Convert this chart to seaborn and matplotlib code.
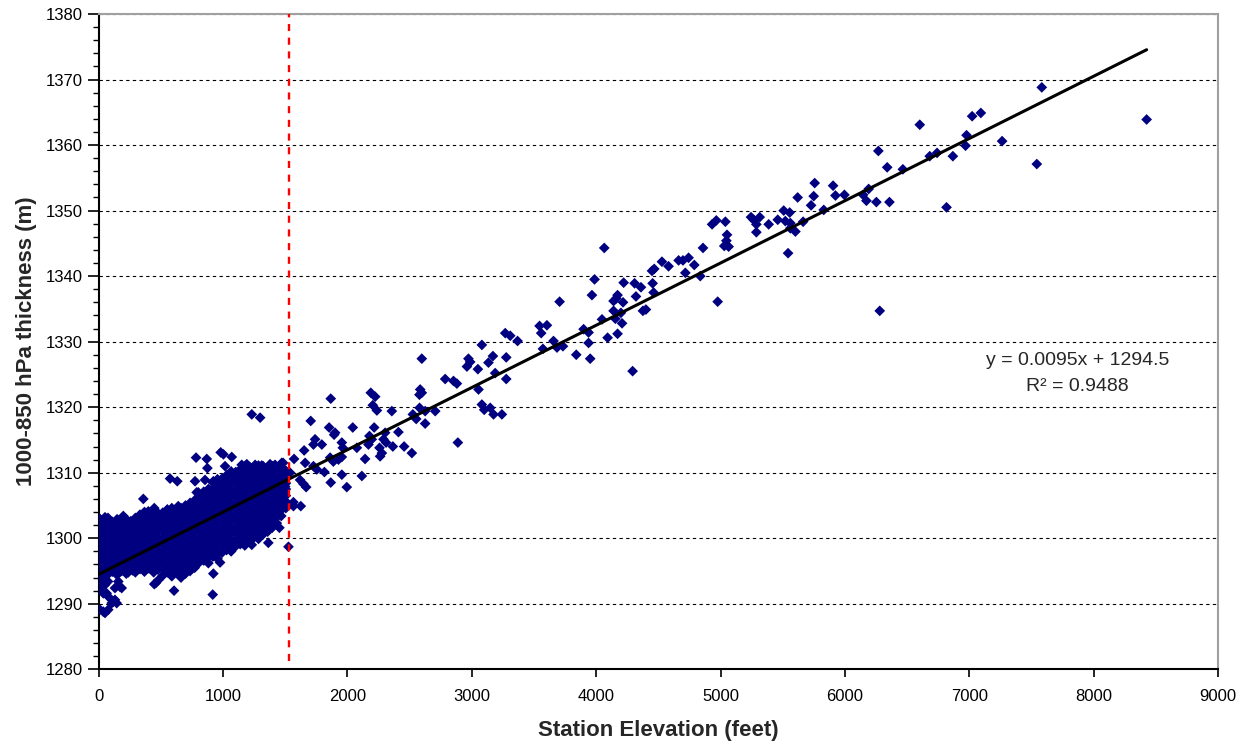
import seaborn as sns
import pandas as pd
import matplotlib.pyplot as plt
from matplotlib.ticker import MultipleLocator

# dense low-elevation cluster, read column by column off the blob (feet -> metres)
cluster_x = [8, 40, 75, 110, 148, 185, 222, 258, 295, 332, 368, 405, 442, 478,
             515, 552, 588, 625, 662, 698, 735, 772, 808, 845, 882, 918, 955, 992,
             1028, 1065, 1102, 1138, 1175, 1212, 1248, 1285, 1322, 1358, 1395,
             1432, 1468, 1505]
cluster_y = [
    [1293.6, 1294.6, 1295.7, 1296.5, 1297.6, 1298.4, 1299.5, 1300.3, 1301.3, 1302.2, 1303.0],
    [1294.1, 1295.1, 1296.0, 1297.1, 1297.9, 1298.9, 1299.9, 1300.8, 1301.8, 1302.6],
    [1293.4, 1294.5, 1295.5, 1296.6, 1297.4, 1298.5, 1299.3, 1300.4, 1301.2, 1302.1, 1303.1],
    [1294.9, 1295.9, 1296.9, 1297.9, 1298.8, 1299.8, 1300.7, 1301.6, 1302.5],
    [1294.4, 1295.3, 1296.3, 1297.2, 1298.3, 1299.1, 1300.2, 1301.0, 1302.0, 1302.9],
    [1295.0, 1295.8, 1296.8, 1297.7, 1298.7, 1299.6, 1300.6, 1301.4, 1302.4],
    [1294.6, 1295.5, 1296.4, 1297.4, 1298.2, 1299.2, 1300.1, 1301.1, 1301.9, 1302.9],
    [1295.2, 1296.1, 1297.0, 1298.0, 1298.9, 1299.9, 1300.8, 1301.7, 1302.6],
    [1294.8, 1295.7, 1296.6, 1297.6, 1298.5, 1299.4, 1300.4, 1301.3, 1302.2, 1303.1],
    [1295.3, 1296.2, 1297.2, 1298.1, 1299.0, 1300.0, 1300.9, 1301.8, 1302.7, 1303.6],
    [1294.9, 1295.9, 1296.8, 1297.7, 1298.7, 1299.6, 1300.5, 1301.5, 1302.4, 1303.3, 1304.0],
    [1295.4, 1296.3, 1297.3, 1298.2, 1299.2, 1300.1, 1301.0, 1302.0, 1302.9, 1303.7],
    [1294.8, 1295.8, 1296.9, 1297.8, 1298.6, 1299.7, 1300.6, 1301.5, 1302.5, 1303.4, 1304.1],
    [1295.2, 1296.2, 1297.1, 1298.1, 1299.1, 1300.0, 1301.0, 1301.9, 1302.8, 1303.8],
    [1294.3, 1295.3, 1296.3, 1297.3, 1298.2, 1299.2, 1300.1, 1301.1, 1302.0, 1303.0, 1303.9],
    [1294.8, 1295.8, 1296.7, 1297.7, 1298.7, 1299.6, 1300.6, 1301.5, 1302.4, 1303.4, 1304.4],
    [1294.2, 1295.2, 1296.2, 1297.1, 1298.1, 1299.0, 1300.0, 1300.9, 1301.9, 1302.8, 1303.8, 1304.6],
    [1294.7, 1295.6, 1296.6, 1297.5, 1298.5, 1299.5, 1300.4, 1301.4, 1302.3, 1303.3, 1304.2],
    [1294.0, 1295.0, 1296.0, 1297.0, 1297.9, 1298.9, 1299.8, 1300.8, 1301.7, 1302.7, 1303.6, 1304.6],
    [1294.6, 1295.5, 1296.5, 1297.4, 1298.3, 1299.3, 1300.2, 1301.2, 1302.2, 1303.1, 1304.1, 1305.0],
    [1295.0, 1295.9, 1296.9, 1297.8, 1298.7, 1299.6, 1300.6, 1301.5, 1302.5, 1303.5, 1304.4, 1305.4],
    [1295.5, 1296.4, 1297.3, 1298.3, 1299.2, 1300.1, 1301.1, 1302.0, 1303.0, 1303.9, 1304.9, 1305.8],
    [1296.3, 1297.3, 1298.2, 1299.2, 1300.1, 1301.1, 1302.0, 1303.0, 1303.9, 1304.8, 1305.8, 1306.7],
    [1296.6, 1297.6, 1298.6, 1299.6, 1300.5, 1301.5, 1302.4, 1303.4, 1304.3, 1305.3, 1306.2, 1307.1],
    [1296.2, 1297.1, 1298.1, 1299.0, 1300.0, 1300.9, 1301.9, 1302.8, 1303.8, 1304.7, 1305.7, 1306.6, 1307.5],
    [1297.2, 1298.1, 1299.1, 1300.0, 1301.0, 1301.9, 1302.9, 1303.8, 1304.8, 1305.7, 1306.7, 1307.6, 1308.5],
    [1296.9, 1297.8, 1298.8, 1299.7, 1300.7, 1301.6, 1302.6, 1303.5, 1304.5, 1305.4, 1306.4, 1307.3, 1308.2, 1309.0],
    [1297.8, 1298.7, 1299.7, 1300.6, 1301.6, 1302.5, 1303.5, 1304.4, 1305.4, 1306.3, 1307.3, 1308.2, 1309.1],
    [1298.2, 1299.2, 1300.1, 1301.1, 1302.0, 1303.0, 1303.9, 1304.9, 1305.8, 1306.8, 1307.7, 1308.7, 1309.6],
    [1298.0, 1298.9, 1299.8, 1300.8, 1301.7, 1302.7, 1303.6, 1304.6, 1305.5, 1306.5, 1307.4, 1308.4, 1309.3, 1310.2],
    [1298.8, 1299.7, 1300.7, 1301.6, 1302.6, 1303.5, 1304.5, 1305.4, 1306.4, 1307.3, 1308.3, 1309.2, 1310.1],
    [1299.1, 1300.0, 1301.0, 1301.9, 1302.9, 1303.8, 1304.8, 1305.7, 1306.7, 1307.6, 1308.6, 1309.5, 1310.5],
    [1298.9, 1299.9, 1300.8, 1301.8, 1302.7, 1303.7, 1304.6, 1305.6, 1306.5, 1307.5, 1308.4, 1309.4, 1310.3, 1311.0],
    [1299.6, 1300.5, 1301.5, 1302.4, 1303.4, 1304.3, 1305.3, 1306.2, 1307.2, 1308.1, 1309.1, 1310.0, 1310.9],
    [1300.1, 1301.0, 1302.0, 1302.9, 1303.9, 1304.8, 1305.8, 1306.7, 1307.7, 1308.6, 1309.6, 1310.5],
    [1299.9, 1300.8, 1301.8, 1302.7, 1303.7, 1304.6, 1305.6, 1306.5, 1307.5, 1308.4, 1309.4, 1310.3, 1311.1],
    [1300.6, 1301.5, 1302.5, 1303.4, 1304.4, 1305.3, 1306.3, 1307.2, 1308.2, 1309.1, 1310.1, 1311.0],
    [1301.0, 1301.9, 1302.9, 1303.8, 1304.8, 1305.7, 1306.7, 1307.6, 1308.6, 1309.5, 1310.5],
    [1301.6, 1302.5, 1303.5, 1304.4, 1305.4, 1306.3, 1307.3, 1308.2, 1309.2, 1310.1, 1311.0],
    [1302.3, 1303.2, 1304.2, 1305.1, 1306.1, 1307.0, 1308.0, 1308.9, 1309.9, 1310.8],
    [1303.4, 1304.3, 1305.3, 1306.2, 1307.2, 1308.1, 1309.1, 1310.0, 1310.8],
    [1304.6, 1305.6, 1306.5, 1307.5, 1308.4, 1309.4, 1310.3],
]

# stragglers around the cluster edge
edge_x = [37, 10, 51, 77, 105, 131, 117, 145, 37, 77, 64, 10, 51, 37, 185, 131, 158, 171,
          238, 273, 461, 479, 447, 606, 394, 426, 689, 742, 922, 917, 976, 788, 761, 1030,
          1070, 1231, 1364, 1526, 1453, 1338, 51, 198, 359, 399, 447, 574, 632, 640, 788,
          801, 775, 855, 922, 783, 869, 874, 981, 1003, 1070, 1016, 1150, 1191, 1258, 1311,
          1378, 1418, 1472, 1231, 1298, 1392, 1419, 1405, 1499, 1539, 1483, 1472, 1485,
          1499, 1566]
edge_y = [1288.8, 1289.1, 1288.6, 1289.1, 1290.1, 1290.6, 1290.3, 1290.1, 1291.6, 1291.1,
          1291.6, 1292.6, 1292.9, 1293.7, 1292.4, 1292.4, 1293.4, 1292.6, 1294.8, 1295.1,
          1293.2, 1293.6, 1293.0, 1292.0, 1295.7, 1295.9, 1296.2, 1295.7, 1294.6, 1291.4,
          1296.3, 1297.2, 1297.7, 1298.7, 1298.5, 1299.0, 1299.3, 1298.7, 1301.6, 1302.3,
          1303.2, 1303.4, 1306.0, 1304.1, 1304.6, 1309.1, 1308.7, 1304.9, 1307.0, 1307.0,
          1308.7, 1308.9, 1308.7, 1312.3, 1312.1, 1310.7, 1313.1, 1312.8, 1312.4, 1311.0,
          1311.2, 1311.3, 1311.2, 1311.1, 1311.3, 1311.2, 1311.5, 1318.9, 1318.4, 1304.1,
          1306.7, 1304.6, 1305.4, 1310.0, 1311.5, 1310.2, 1309.2, 1307.9, 1304.9]

# higher stations
high_x = [1571, 1660, 1727, 1754, 1815, 1866, 1955, 2116, 1995, 1619, 1646, 1668, 1566, 1625,
          1652, 1861, 1887, 1928, 1955, 2142, 1740, 1727, 1794, 1955, 1963, 2076, 2365, 2456,
          2258, 2277, 2263, 2518, 2888, 1705, 1853, 1901, 1893, 2043, 2215, 2410, 2177, 2196,
          2169, 2303, 2290, 2311, 2204, 2237, 2357, 2526, 2553, 2580, 2625, 2706, 2625, 3081,
          3100, 3148, 3175, 3242, 2585, 2598, 2579, 2188, 2223, 1866, 3054, 2880, 2853, 2786,
          3277, 3188, 3049, 2973, 2987, 2961, 3170, 3134, 3277, 2598, 3081, 3269, 3309, 3368,
          3572, 3657, 3685, 3733, 3840, 3899, 3939, 3939, 3952, 3545, 3604, 3558, 3706, 3966,
          3987, 4065, 4047, 4092, 4172, 4208, 4154, 4140, 4199, 4140, 4216, 4172, 4162, 4221,
          4293, 4309, 4320, 4360, 4376, 4400, 4454, 4462, 4449, 4467, 4529, 4582, 4663, 4698,
          4743, 4717, 4789, 4837, 4859, 4932, 4966, 5039, 4977, 5052, 5047, 5030, 5065, 5245,
          5266, 5315, 5288, 5288, 5387, 5460, 5508, 5556, 5521, 5561, 5602, 5561, 5543, 5664,
          5620, 5749, 5728, 5757, 5830, 5905, 5924, 5996, 6146, 6173, 6191, 6253, 6269, 6280,
          6340, 6358, 6466, 6602, 6682, 6741, 6817, 6868, 6970, 6978, 7023, 7093, 7264, 7543,
          7583, 8426]
high_y = [1312.1, 1311.5, 1311.0, 1310.5, 1310.1, 1308.5, 1309.7, 1309.5, 1307.8, 1308.9,
          1308.3, 1307.8, 1305.5, 1304.9, 1313.4, 1312.3, 1311.7, 1312.0, 1312.4, 1312.1,
          1315.1, 1314.3, 1314.3, 1314.6, 1313.8, 1313.8, 1314.0, 1314.0, 1313.8, 1313.0,
          1312.5, 1313.0, 1314.6, 1317.9, 1316.9, 1316.1, 1315.8, 1316.9, 1316.9, 1316.2,
          1315.6, 1315.1, 1314.3, 1316.1, 1315.1, 1314.6, 1320.3, 1319.5, 1319.4, 1318.9,
          1318.2, 1319.9, 1319.4, 1319.4, 1317.5, 1320.4, 1319.6, 1319.9, 1318.9, 1318.9,
          1322.7, 1322.2, 1321.9, 1322.2, 1321.6, 1321.3, 1322.7, 1323.6, 1324.0, 1324.3,
          1324.3, 1325.2, 1325.8, 1327.4, 1326.9, 1326.2, 1327.8, 1326.8, 1327.6, 1327.4,
          1329.5, 1331.3, 1330.9, 1330.1, 1328.9, 1330.1, 1329.1, 1329.3, 1328.0, 1331.9,
          1331.4, 1329.8, 1327.4, 1332.4, 1332.5, 1331.3, 1336.1, 1337.1, 1339.5, 1344.3,
          1333.4, 1330.6, 1331.2, 1332.8, 1333.5, 1334.7, 1334.4, 1336.2, 1336.0, 1337.1,
          1336.6, 1339.0, 1325.5, 1338.9, 1336.9, 1338.3, 1334.7, 1334.9, 1338.9, 1337.5,
          1340.8, 1341.1, 1342.2, 1341.5, 1342.4, 1342.4, 1342.8, 1340.5, 1341.7, 1340.0,
          1344.3, 1347.9, 1348.5, 1348.3, 1336.1, 1346.3, 1345.4, 1344.6, 1344.5, 1349.0,
          1348.6, 1349.0, 1347.9, 1346.7, 1347.9, 1348.6, 1350.0, 1349.7, 1348.4, 1348.1,
          1346.8, 1347.3, 1343.5, 1348.3, 1352.0, 1352.2, 1350.8, 1354.2, 1350.1, 1353.8,
          1352.3, 1352.4, 1352.4, 1351.5, 1353.3, 1351.3, 1359.1, 1334.7, 1356.6, 1351.3,
          1356.3, 1363.1, 1358.3, 1358.8, 1350.5, 1358.3, 1359.9, 1361.5, 1364.4, 1364.9,
          1360.6, 1357.1, 1368.8, 1363.9]

trend_slope = 0.0095
trend_intercept = 1294.5
r_squared = 0.9488
cutoff_ft = 1530


def main():
    xs, ys = [], []
    for x, col in zip(cluster_x, cluster_y):
        xs += [x] * len(col)
        ys += col
    xs += edge_x + high_x
    ys += edge_y + high_y
    df = pd.DataFrame({"elev": xs, "thick": ys})

    sns.set_theme(style="white")
    plt.rcParams["font.family"] = ["Liberation Sans", "DejaVu Sans"]

    fig = plt.figure(figsize=(12.49, 7.48), dpi=100, facecolor="white")
    ax = fig.add_axes([0.079, 0.1052, 0.8962, 0.8761])

    ax.set_axisbelow(True)
    ax.yaxis.grid(True, linestyle=(0, (3, 3)), color="black", linewidth=0.8)
    ax.xaxis.grid(False)

    sns.scatterplot(data=df, x="elev", y="thick", marker="D", s=30, color="#000080",
                    edgecolor="none", linewidth=0, ax=ax, zorder=3)

    trend = pd.DataFrame({"elev": [0, df["elev"].max()]})
    trend["thick"] = trend_intercept + trend_slope * trend["elev"]
    sns.lineplot(data=trend, x="elev", y="thick", color="black", linewidth=2.2, ax=ax, zorder=4)

    ax.vlines(cutoff_ft, 1281.3, 1380, colors="#ff0000", linestyles=(0, (3, 2.8)),
              linewidth=1.7, zorder=5)

    ax.set_xlim(0, 9000)
    ax.set_ylim(1280, 1380)
    ax.xaxis.set_major_locator(MultipleLocator(1000))
    ax.yaxis.set_major_locator(MultipleLocator(10))
    ax.yaxis.set_minor_locator(MultipleLocator(2))

    ax.tick_params(axis="both", which="major", direction="out", labelsize=12,
                   color="black", width=1.2, labelcolor="black")
    ax.tick_params(axis="y", which="major", length=8, left=True)
    ax.tick_params(axis="x", which="major", length=6, bottom=True, pad=8)
    ax.tick_params(axis="y", which="minor", length=4, width=1.0, left=True, color="black")

    for side in ["left", "bottom"]:
        ax.spines[side].set_color("black")
        ax.spines[side].set_linewidth(1.5)
    for side in ["top", "right"]:
        ax.spines[side].set_color("#a0a0a0")
        ax.spines[side].set_linewidth(1.5)

    ax.set_xlabel("Station Elevation (feet)", fontsize=16, fontweight="bold", labelpad=12)
    ax.set_ylabel("1000-850 hPa thickness (m)", fontsize=16, fontweight="bold", labelpad=6)

    ax.text(7870, 1327.1, f"y = {trend_slope}x + {trend_intercept}", fontsize=14,
            ha="center", va="center")
    ax.text(7870, 1323.2, f"R² = {r_squared}", fontsize=14, ha="center", va="center")

    fig.savefig("out.png", dpi=100, facecolor="white")
    plt.close(fig)


if __name__ == "__main__":
    main()
